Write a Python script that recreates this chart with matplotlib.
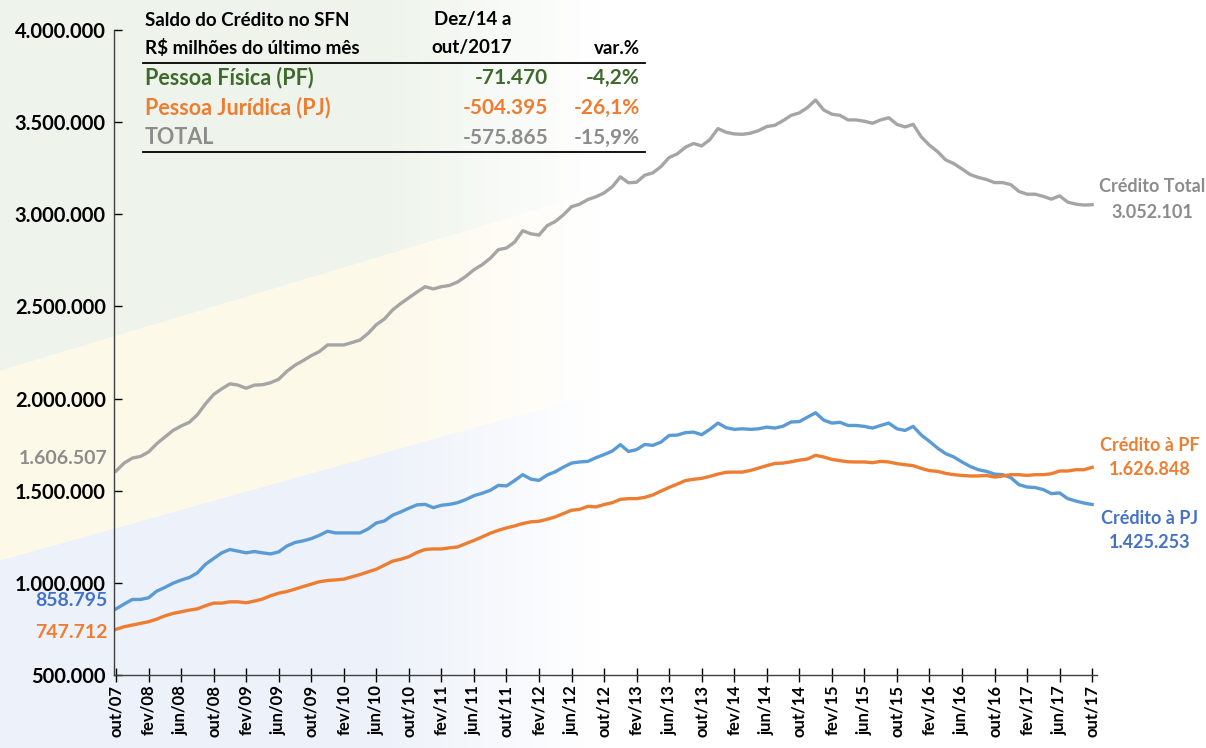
import matplotlib as mpl

mpl.use("Agg")

import matplotlib.pyplot as plt
import numpy as np
from matplotlib.colors import to_rgb

plt.rcParams["font.family"] = ["Lato", "DejaVu Sans"]
plt.rcParams["font.weight"] = "bold"

# Saldo do crédito, R$ bilhões (valores do último mês), out/07 .. out/17
TOTAL = [
    1606.5, 1650, 1677, 1686, 1710, 1755, 1791, 1827, 1851, 1871, 1912, 1972,
    2022, 2053, 2080, 2073, 2056, 2073, 2075, 2086, 2105, 2148, 2181, 2206,
    2233, 2255, 2291, 2291, 2291, 2304, 2318, 2354, 2401, 2432, 2481, 2516,
    2547, 2578, 2607, 2595, 2607, 2614, 2633, 2663, 2699, 2726, 2761, 2808,
    2817, 2849, 2911, 2894, 2887, 2938, 2961, 2997, 3041, 3055, 3080, 3095,
    3116, 3149, 3203, 3171, 3174, 3212, 3225, 3259, 3308, 3328, 3364, 3384,
    3371, 3405, 3465, 3445, 3436, 3434, 3440, 3454, 3476, 3483, 3508, 3537,
    3550, 3579, 3620, 3566, 3543, 3537, 3512, 3512, 3505, 3494, 3512, 3524,
    3488, 3474, 3488, 3420, 3375, 3340, 3295, 3275, 3246, 3216, 3200, 3189,
    3172, 3172, 3161, 3124, 3109, 3109, 3097, 3082, 3100, 3066, 3055, 3050,
    3052.1,
]
PJ = [
    858.8, 885, 910, 910, 919, 955, 975, 998, 1015, 1029, 1054, 1101,
    1132, 1163, 1181, 1172, 1163, 1170, 1163, 1157, 1168, 1200, 1219, 1228,
    1240, 1258, 1280, 1271, 1271, 1271, 1271, 1293, 1325, 1336, 1367, 1385,
    1405, 1423, 1426, 1408, 1421, 1426, 1435, 1452, 1473, 1486, 1502, 1529,
    1526, 1555, 1587, 1563, 1556, 1585, 1603, 1628, 1650, 1656, 1659, 1679,
    1696, 1715, 1750, 1713, 1723, 1751, 1746, 1764, 1800, 1802, 1815, 1818,
    1804, 1833, 1867, 1842, 1833, 1836, 1833, 1836, 1845, 1840, 1850, 1873,
    1875, 1899, 1923, 1883, 1867, 1871, 1854, 1854, 1849, 1840, 1854, 1867,
    1836, 1827, 1849, 1802, 1768, 1731, 1701, 1683, 1656, 1632, 1614, 1605,
    1590, 1587, 1571, 1533, 1520, 1517, 1506, 1484, 1488, 1457, 1444, 1433,
    1425.3,
]
PF = [
    747.7, 762, 771, 780, 789, 803, 821, 834, 843, 852, 859, 876,
    890, 890, 897, 897, 892, 901, 912, 930, 944, 953, 966, 980,
    993, 1006, 1013, 1016, 1020, 1033, 1045, 1060, 1074, 1096, 1118, 1128,
    1142, 1165, 1181, 1184, 1184, 1190, 1195, 1213, 1230, 1249, 1269, 1285,
    1298, 1309, 1322, 1331, 1334, 1345, 1358, 1376, 1394, 1399, 1415, 1412,
    1425, 1435, 1453, 1457, 1457, 1464, 1477, 1498, 1518, 1536, 1555, 1562,
    1567, 1578, 1590, 1600, 1601, 1601, 1610, 1623, 1636, 1648, 1650, 1657,
    1666, 1672, 1692, 1683, 1670, 1663, 1657, 1656, 1656, 1652, 1659, 1656,
    1647, 1641, 1636, 1621, 1609, 1605, 1594, 1587, 1583, 1580, 1580, 1583,
    1574, 1580, 1587, 1587, 1583, 1587, 1587, 1592, 1607, 1607, 1614, 1614,
    1626.8,
]
TICK_LABELS = [
    "out/07", "fev/08", "jun/08", "out/08", "fev/09", "jun/09", "out/09",
    "fev/10", "jun/10", "out/10", "fev/11", "jun/11", "out/11", "fev/12",
    "jun/12", "out/12", "fev/13", "jun/13", "out/13", "fev/14", "jun/14",
    "out/14", "fev/15", "jun/15", "out/15", "fev/16", "jun/16", "out/16",
    "fev/17", "jun/17", "out/17",
]
Y_TICKS = [500000, 1000000, 1500000, 2000000, 2500000, 3000000, 3500000, 4000000]

TABLE_HEADER = ["Saldo do Crédito no SFN", r"R\$ milhões do último mês"]
TABLE_ROWS = [
    ("Pessoa Física (PF)", "-71.470", "-4,2%"),
    ("Pessoa Jurídica (PJ)", "-504.395", "-26,1%"),
    ("TOTAL", "-575.865", "-15,9%"),
]

GRAY = "#A5A5A5"
GRAY_TXT = "#8C8C8C"
ORANGE = "#ED7D31"
BLUE = "#5B9BD5"
BLUE_TXT = "#4472C4"
GREEN_TXT = "#3E6B2C"
ROW_COLORS = [GREEN_TXT, ORANGE, GRAY_TXT]

W, H = 1206, 748


def px(x, y):
    return x / W, 1 - y / H


fig = plt.figure(figsize=(W / 100, H / 100), dpi=100)

# faint watermark on the left, fading out towards the right
yy, xx = np.mgrid[0:H, 0:W]
bg = np.ones((H, W, 3))
green, cream, blue = (np.array(to_rgb(c)) for c in ["#EEF4EB", "#FDF9E9", "#EDF2FA"])
top = yy < 370 - 0.30 * xx
mid = (~top) & (yy < 560 - 0.28 * xx)
low = ~(top | mid)
fade = np.clip(1 - (xx - 380) / 220, 0, 1)[..., None]
tint = np.where(top[..., None], green, np.where(mid[..., None], cream, blue))
bg = bg * (1 - fade) + tint * fade
bg_ax = fig.add_axes([0, 0, 1, 1], zorder=-10)
bg_ax.imshow(bg, aspect="auto", interpolation="bilinear")
bg_ax.axis("off")

ax = fig.add_axes([114 / W, 73 / H, (1097 - 114) / W, (675 - 30) / H])
ax.set_facecolor("none")
ax.set_zorder(2)

x = np.arange(len(TOTAL))
for series, color in [(TOTAL, GRAY), (PJ, BLUE), (PF, ORANGE)]:
    ax.plot(x, np.array(series) * 1000, color=color, linewidth=2.4,
            solid_joinstyle="round")

ax.set_xlim(-0.25, 120.6)
ax.set_ylim(500000, 4000000)
ax.set_yticks(Y_TICKS, [f"{v:,}".replace(",", ".") for v in Y_TICKS])
ax.set_xticks(np.arange(0, 121, 4), TICK_LABELS, rotation=90)
ax.tick_params(axis="y", direction="in", length=6, width=1, labelsize=14.5, pad=6)
ax.tick_params(axis="x", direction="inout", length=10, width=1, labelsize=12, pad=2)
for lab in ax.get_xticklabels() + ax.get_yticklabels():
    lab.set_fontweight("bold")
for side in ["top", "right"]:
    ax.spines[side].set_visible(False)
for side in ["left", "bottom"]:
    ax.spines[side].set_color("#404040")
    ax.spines[side].set_linewidth(1)

# summary table
for txt, ty in zip(TABLE_HEADER, [20, 48]):
    fig.text(*px(145, ty), txt, fontsize=13.5, ha="left", va="center", color="black")
fig.text(*px(473, 20), "Dez/14 a", fontsize=13.5, ha="center", va="center")
fig.text(*px(472, 48), "out/2017", fontsize=13.5, ha="center", va="center")
fig.text(*px(640, 48), "var.%", fontsize=13.5, ha="right", va="center")
for ly in [63, 152]:
    fig.add_artist(plt.Line2D([143 / W, 645 / W], [1 - ly / H] * 2, color="black",
                              linewidth=1.3, transform=fig.transFigure))
for (name, diff, pct), col, ty in zip(TABLE_ROWS, ROW_COLORS, [78, 108, 138]):
    fig.text(*px(145, ty), name, fontsize=15.5, ha="left", va="center", color=col)
    fig.text(*px(548, ty), diff, fontsize=15, ha="right", va="center", color=col)
    fig.text(*px(640, ty), pct, fontsize=15, ha="right", va="center", color=col)

# series labels
fig.text(*px(1152, 187), "Crédito Total", fontsize=13, ha="center", va="center", color=GRAY_TXT)
fig.text(*px(1152, 212), "3.052.101", fontsize=13, ha="center", va="center", color=GRAY_TXT)
fig.text(*px(1150, 445), "Crédito à PF", fontsize=13, ha="center", va="center", color=ORANGE)
fig.text(*px(1150, 470), "1.626.848", fontsize=13, ha="center", va="center", color=ORANGE)
fig.text(*px(1150, 518), "Crédito à PJ", fontsize=13, ha="center", va="center", color=BLUE_TXT)
fig.text(*px(1150, 542), "1.425.253", fontsize=13, ha="center", va="center", color=BLUE_TXT)
fig.text(*px(108, 458), "1.606.507", fontsize=14, ha="right", va="center", color=GRAY_TXT)
fig.text(*px(108, 601), "858.795", fontsize=14, ha="right", va="center", color=BLUE_TXT)
fig.text(*px(108, 632), "747.712", fontsize=14, ha="right", va="center", color=ORANGE)

fig.savefig("out.png", dpi=100)
